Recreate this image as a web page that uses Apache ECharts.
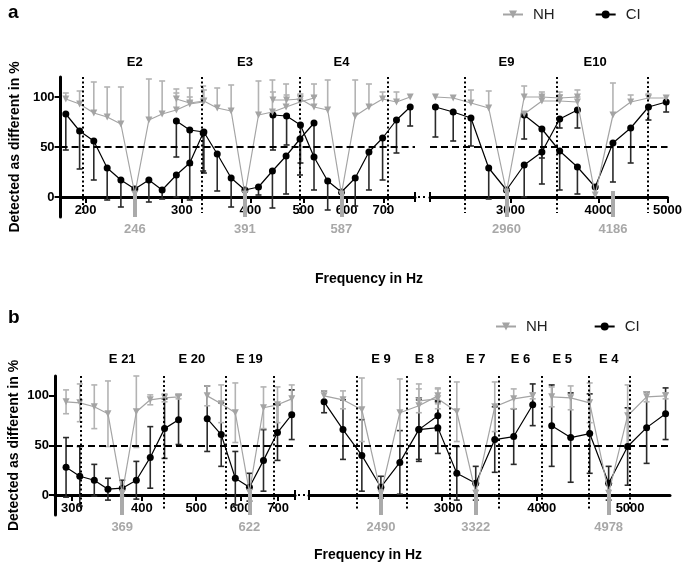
<!DOCTYPE html>
<html>
<head>
<meta charset="utf-8">
<script src="https://cdn.jsdelivr.net/npm/echarts@6/dist/echarts.min.js"></script>
<style>html,body{margin:0;padding:0;background:#fff}#chart{width:685px;height:571px}</style>
</head>
<body>
<div id="chart"></div>
<script>
// panel a, left part (E2, E3, E4)
var aE2_f = [184, 195, 207, 219, 232, 246, 261, 276, 293, 310, 328]
var aE2_nh = [98, 93, 84, 80, 73, 3, 77, 83, 87, 93, 95]
var aE2_nhErr = [6, 13, 31, 30, 37, 0, 41, 33, 21, 16, 16]
var aE2_ci = [83, 66, 56, 29, 17, 8, 17, 7, 22, 34, 64]
var aE2_ciErr = [36, 38, 39, 32, 27, 0, 22, 9, 22, 37, 38]

var aE3_f = [293, 310, 329, 348, 369, 391, 414, 439, 465, 493, 523]
var aE3_nh = [98, 94, 96, 89, 86, 3, 82, 85, 90, 95, 99]
var aE3_nhErr = [6, 6, 11, 20, 26, 0, 34, 32, 23, 7, 2]
var aE3_ci = [76, 67, 65, 43, 19, 7, 10, 26, 41, 58, 74]
var aE3_ciErr = [36, 35, 41, 37, 29, 0, 8, 37, 38, 36, 35]

var aE4_f = [440, 466, 494, 523, 554, 587, 622, 659, 698, 740, 784]
var aE4_nh = [97, 97, 98, 90, 87, 3, 81, 90, 98, 95, 100]
var aE4_nhErr = [8, 5, 5, 23, 30, 0, 36, 23, 7, 10, 0]
var aE4_ci = [82, 81, 72, 40, 16, 5, 19, 45, 59, 77, 90]
var aE4_ciErr = [35, 29, 38, 33, 29, 0, 28, 38, 42, 33, 19]

// panel a, right part (E9, E10)
var aE9_f = [2349, 2489, 2637, 2794, 2960, 3136, 3322, 3520, 3729]
var aE9_nh = [100, 99, 94, 89, 5, 100, 100, 99, 100]
var aE9_nhErr = [0, 0, 13, 17, 0, 11, 5, 6, 7]
var aE9_ci = [90, 85, 79, 29, 7, 32, 45, 78, 87]
var aE9_ciErr = [30, 29, 28, 31, 0, 32, 32, 9, 18]

var aE10_f = [3136, 3322, 3520, 3729, 3951, 4186, 4435, 4699, 4978]
var aE10_nh = [83, 96, 96, 95, 2, 82, 95, 99, 99]
var aE10_nhErr = [0, 5, 6, 5, 0, 32, 7, 4, 0]
var aE10_ci = [82, 68, 46, 30, 10, 54, 69, 90, 95]
var aE10_ciErr = [24, 29, 39, 27, 0, 39, 35, 13, 10]

// panel b, left part (E21, E19)
var bE21_f = [293, 310, 329, 348, 369, 391, 414, 439, 465]
var bE21_nh = [94, 93, 89, 82, 2, 84, 96, 98, 99]
var bE21_nhErr = [12, 19, 22, 33, 0, 36, 5, 4, 2]
var bE21_ci = [28, 19, 15, 6, 7, 15, 38, 67, 76]
var bE21_ciErr = [30, 30, 16, 11, 8, 19, 31, 30, 25]

var bE19_f = [523, 554, 587, 622, 659, 698, 740]
var bE19_nh = [100, 92, 83, 3, 88, 91, 97]
var bE19_nhErr = [10, 19, 30, 0, 21, 18, 14]
var bE19_ci = [77, 61, 17, 8, 35, 63, 81]
var bE19_ciErr = [33, 32, 27, 14, 31, 28, 25]

// panel b, right part (E9, E7, E4)
var bE9_f = [2094, 2218, 2349, 2489, 2637, 2794, 2960]
var bE9_nh = [100, 96, 86, 2, 83, 90, 100]
var bE9_nhErr = [5, 9, 32, 0, 34, 22, 8]
var bE9_ci = [94, 66, 40, 8, 33, 66, 80]
var bE9_ciErr = [11, 30, 36, 11, 32, 32, 15]

var bE7_f = [2794, 2960, 3136, 3322, 3520, 3729, 3951]
var bE7_nh = [95, 97, 84, 2, 89, 97, 100]
var bE7_nhErr = [12, 10, 30, 0, 25, 10, 3]
var bE7_ci = [66, 68, 22, 12, 56, 59, 91]
var bE7_ciErr = [30, 26, 27, 17, 33, 28, 21]

var bE4_f = [4186, 4435, 4699, 4978, 5274, 5588, 5920]
var bE4_nh = [99, 98, 93, 2, 80, 99, 100]
var bE4_nhErr = [10, 12, 20, 0, 31, 5, 3]
var bE4_ci = [70, 58, 62, 12, 49, 68, 82]
var bE4_ciErr = [41, 45, 40, 17, 39, 36, 26]

// axes: ranges, tick labels, electrode borders, reference tones, electrode names
var xRanges = [[180, 800], [2308, 5000], [280, 750], [2000, 6000]]
var xTicks = [[200, 300, 400, 500, 600, 700], [3000, 4000, 5000], [300, 400, 500, 600, 700], [3000, 4000, 5000]]
var yTicks = [0, 50, 100]
var borders = [[198, 326, 492, 714], [2583, 3487, 4695], [311, 437, 564, 688], [2315, 2692, 3066, 3565, 4058, 4686, 5304]]
var refTones = [[246, 391, 587], [2960, 4186], [369, 622], [2490, 3322, 4978]]
var elecNames = [['E2', 'E3', 'E4'], ['E9', 'E10'], ['E 21', 'E 20', 'E 19'], ['E 9', 'E 8', 'E 7', 'E 6', 'E 5', 'E 4']]
var elecFreqs = [[246, 391, 587], [2960, 3951], [369, 491, 622], [2490, 2842, 3322, 3807, 4322, 4978]]

var FONT = '"Liberation Sans", Arial, sans-serif'
var GRAY = '#a4a4a4'
var myChart = echarts.init(document.getElementById('chart'))

var grids = [
    {left: 55, top: 77, width: 360, height: 140},
    {left: 430, top: 77, width: 239, height: 140},
    {left: 55, top: 376, width: 240, height: 139},
    {left: 309, top: 376, width: 361, height: 139}
]

// tick labels of panel b, right part, sit a little right of their ticks
var labelShift = {3000: 12, 4000: 10, 5000: 40}

var groups = [
    [0, aE2_f, aE2_nh, aE2_nhErr, aE2_ci, aE2_ciErr],
    [0, aE3_f, aE3_nh, aE3_nhErr, aE3_ci, aE3_ciErr],
    [0, aE4_f, aE4_nh, aE4_nhErr, aE4_ci, aE4_ciErr],
    [1, aE9_f, aE9_nh, aE9_nhErr, aE9_ci, aE9_ciErr],
    [1, aE10_f, aE10_nh, aE10_nhErr, aE10_ci, aE10_ciErr],
    [2, bE21_f, bE21_nh, bE21_nhErr, bE21_ci, bE21_ciErr],
    [2, bE19_f, bE19_nh, bE19_nhErr, bE19_ci, bE19_ciErr],
    [3, bE9_f, bE9_nh, bE9_nhErr, bE9_ci, bE9_ciErr],
    [3, bE7_f, bE7_nh, bE7_nhErr, bE7_ci, bE7_ciErr],
    [3, bE4_f, bE4_nh, bE4_nhErr, bE4_ci, bE4_ciErr]
]

function zip(f, v) {
    return f.map(function (x, i) { return [x, v[i]] })
}

// error bars: dir = 'up', 'down' or 'both'
function errSeries(g, f, v, e, dir, color) {
    return {
        type: 'custom', name: 'err', xAxisIndex: g, yAxisIndex: g, z: 2, silent: true, clip: false,
        encode: {x: 0, y: 1},
        data: f.map(function (x, i) { return [x, v[i], e[i]] }),
        renderItem: function (params, api) {
            var x = api.value(0), y = api.value(1), err = api.value(2)
            if (!err) return null
            var top = api.coord([x, dir === 'down' ? y : y + err])
            var bot = api.coord([x, dir === 'up' ? y : y - err])
            var st = {stroke: color, lineWidth: 1.6}
            var ch = [{type: 'line', shape: {x1: top[0], y1: top[1], x2: bot[0], y2: bot[1]}, style: st}]
            if (dir !== 'down') ch.push({type: 'line', shape: {x1: top[0] - 3, y1: top[1], x2: top[0] + 3, y2: top[1]}, style: st})
            if (dir !== 'up') ch.push({type: 'line', shape: {x1: bot[0] - 3, y1: bot[1], x2: bot[0] + 3, y2: bot[1]}, style: st})
            return {type: 'group', children: ch}
        }
    }
}

var series = []
groups.forEach(function (gr) {
    var g = gr[0], both = g >= 2
    series.push(errSeries(g, gr[1], gr[4], gr[5], both ? 'both' : 'down', '#2a2a2a'))
    series.push(errSeries(g, gr[1], gr[2], gr[3], both ? 'both' : 'up', '#b3b3b3'))
    series.push({
        type: 'line', name: 'CI', xAxisIndex: g, yAxisIndex: g, z: 3,
        data: zip(gr[1], gr[4]),
        symbol: 'circle', symbolSize: 7,
        itemStyle: {color: '#000'}, lineStyle: {color: '#000', width: 1.2}
    })
    series.push({
        type: 'line', name: 'NH', xAxisIndex: g, yAxisIndex: g, z: 4,
        data: zip(gr[1], gr[2]),
        symbol: 'triangle', symbolRotate: 180, symbolSize: 7,
        itemStyle: {color: GRAY}, lineStyle: {color: GRAY, width: 1.2}
    })
})

// dashed 50 % line, electrode borders, reference tones and electrode names
grids.forEach(function (gd, g) {
    var ml = [{yAxis: 50, lineStyle: {type: [7, 4], width: 2, color: '#000'}}]
    borders[g].forEach(function (f) {
        ml.push([{coord: [f, 120], lineStyle: {type: [2, 2.5], width: 2, color: '#000'}}, {coord: [f, -16]}])
    })
    refTones[g].forEach(function (f) {
        ml.push([{
            coord: [f, 6], lineStyle: {type: 'solid', width: 4, color: '#aaaaaa', cap: 'butt'},
            label: {show: true, position: 'end', distance: 6, formatter: String(f), color: '#a8a8a8',
                fontSize: 13, fontWeight: 'bold', fontFamily: FONT}
        }, {coord: [f, -20]}])
    })
    series.push({
        type: 'line', name: 'helper', xAxisIndex: g, yAxisIndex: g, data: [], clip: false, z: 1,
        markLine: {silent: true, symbol: ['none', 'none'], label: {show: false}, data: ml, animation: false},
        markPoint: {
            silent: true, symbol: 'circle', symbolSize: 1, itemStyle: {color: 'rgba(0,0,0,0)'},
            label: {show: true, position: 'inside', offset: [0, g < 2 ? -15 : -17], formatter: '{b}',
                color: '#000', fontSize: 13, fontWeight: 'bold', fontFamily: FONT},
            data: elecNames[g].map(function (n, i) { return {name: n, coord: [elecFreqs[g][i], 120]} })
        }
    })
})

var labelFont = {color: '#000', fontSize: 13, fontWeight: 'bold', fontFamily: FONT}
var legendText = {fontSize: 15, color: '#222', fontFamily: FONT, padding: [0, 0, 0, 5]}

var option = {
    animation: false,
    backgroundColor: '#fff',
    grid: grids,
    legend: [
        {left: 497, top: 2, data: ['NH', 'CI'], itemWidth: 20, itemHeight: 10, itemGap: 40, textStyle: legendText},
        {left: 490, top: 314, data: ['NH', 'CI'], itemWidth: 20, itemHeight: 10, itemGap: 46, textStyle: legendText}
    ],
    xAxis: grids.map(function (gd, g) {
        var rich = {}
        Object.keys(labelShift).forEach(function (k) {
            rich['s' + k] = Object.assign({padding: [0, 0, 0, labelShift[k]]}, labelFont)
        })
        return {
            type: 'log', logBase: 10, gridIndex: g, min: xRanges[g][0], max: xRanges[g][1],
            offset: -20,
            axisLine: {onZero: false, lineStyle: {color: '#000', width: 3}},
            axisTick: {customValues: xTicks[g], length: 6, lineStyle: {width: 2, color: '#000'}},
            axisLabel: Object.assign({customValues: xTicks[g], margin: 7, rich: rich,
                formatter: function (v) {
                    var t = String(Math.round(v))
                    return g === 3 ? '{s' + t + '|' + t + '}' : t
                }}, labelFont),
            splitLine: {show: false}, minorTick: {show: false}
        }
    }),
    yAxis: grids.map(function (gd, g) {
        var left = g === 0 || g === 2
        return {
            type: 'value', gridIndex: g, min: -20, max: 120, show: left,
            name: left ? 'Detected as different in %' : '',
            nameLocation: 'middle', nameGap: 34,
            nameTextStyle: {color: '#000', fontSize: 14, fontWeight: 'bold', fontFamily: FONT},
            axisLine: {show: true, onZero: false, lineStyle: {color: '#000', width: 3}},
            axisTick: {show: true, customValues: yTicks, length: 6, lineStyle: {width: 2, color: '#000'}},
            axisLabel: Object.assign({customValues: yTicks, margin: 6}, labelFont),
            splitLine: {show: false}
        }
    }),
    graphic: [
        {type: 'text', left: 8, top: 3, style: {text: 'a', fontSize: 19, fontWeight: 'bold', fontFamily: FONT, fill: '#000'}},
        {type: 'text', left: 8, top: 308, style: {text: 'b', fontSize: 19, fontWeight: 'bold', fontFamily: FONT, fill: '#000'}},
        {type: 'text', x: 369, y: 279, style: {text: 'Frequency in Hz', align: 'center', verticalAlign: 'middle',
            fontSize: 14, fontWeight: 'bold', fontFamily: FONT, fill: '#000'}},
        {type: 'text', x: 368, y: 555, style: {text: 'Frequency in Hz', align: 'center', verticalAlign: 'middle',
            fontSize: 14, fontWeight: 'bold', fontFamily: FONT, fill: '#000'}},
        // axis breaks
        {type: 'line', shape: {x1: 415, y1: 192, x2: 415, y2: 202}, style: {stroke: '#000', lineWidth: 2}},
        {type: 'line', shape: {x1: 430, y1: 192, x2: 430, y2: 202}, style: {stroke: '#000', lineWidth: 2}},
        {type: 'line', shape: {x1: 418, y1: 197, x2: 428, y2: 197}, style: {stroke: '#000', lineWidth: 2, lineDash: [2, 3]}},
        {type: 'line', shape: {x1: 295, y1: 490, x2: 295, y2: 500}, style: {stroke: '#000', lineWidth: 2}},
        {type: 'line', shape: {x1: 309, y1: 490, x2: 309, y2: 500}, style: {stroke: '#000', lineWidth: 2}},
        {type: 'line', shape: {x1: 298, y1: 495, x2: 307, y2: 495}, style: {stroke: '#000', lineWidth: 2, lineDash: [2, 3]}}
    ],
    series: series
}

myChart.setOption(option)
</script>
</body>
</html>
